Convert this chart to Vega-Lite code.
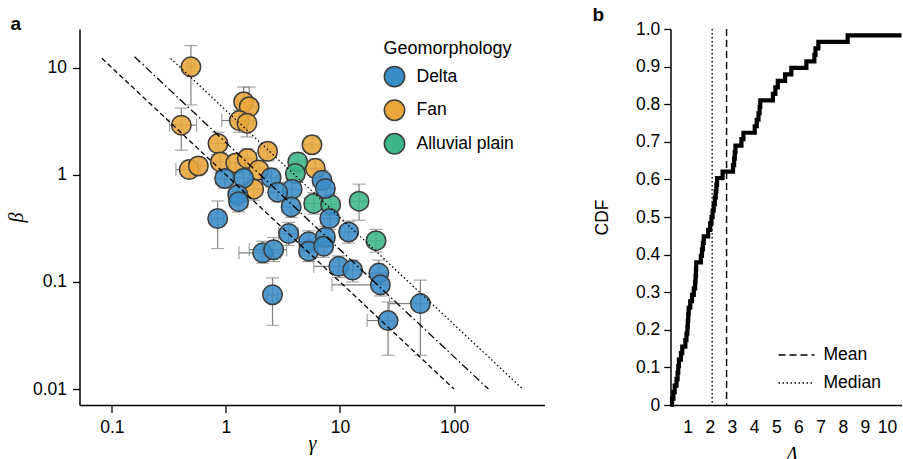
{
  "$schema": "https://vega.github.io/schema/vega-lite/v6.json",
  "padding": {"left": 5.5, "top": 5, "right": 0, "bottom": 0},
  "bounds": "flush",
  "spacing": 126,
  "config": {
    "font": "Liberation Sans",
    "view": {"stroke": null},
    "axis": {"domainColor": "#000", "domainWidth": 1.5, "tickColor": "#000", "tickWidth": 1.3, "labelColor": "#000", "labelFontSize": 17.5, "labelFont": "Liberation Sans", "titleColor": "#000", "grid": false, "labelFlush": false, "labelOverlap": false, "titleFont": "Liberation Serif", "titleFontStyle": "italic", "titleFontWeight": "normal", "titleFontSize": 20},
    "axisX": {"labelOverlap": false},
    "axisQuantitative": {"labelOverlap": false},
    "legend": {"labelFontSize": 17.5, "titleFontSize": 18, "titleFontWeight": "normal", "labelColor": "#000", "titleColor": "#000", "padding": 0, "labelFont": "Liberation Sans", "titleFont": "Liberation Sans"},
    "title": {"font": "Liberation Sans", "fontSize": 19, "fontWeight": "bold", "color": "#000", "anchor": "start", "frame": "group", "baseline": "alphabetic", "offset": -4.75}
  },
  "datasets": {
    "pts": [
      {"geo": "Fan", "gamma": 0.493, "beta": 10.2, "g_lo": 0.46, "g_hi": 0.53, "b_lo": 4.5, "b_hi": 16.1},
      {"geo": "Fan", "gamma": 1.43, "beta": 4.81, "g_lo": 1.25, "g_hi": 1.65, "b_lo": 3.5, "b_hi": 6.6},
      {"geo": "Fan", "gamma": 1.60, "beta": 4.32, "g_lo": 1.40, "g_hi": 1.85, "b_lo": 3.2, "b_hi": 6.6},
      {"geo": "Fan", "gamma": 1.31, "beta": 3.21, "g_lo": 0.92, "g_hi": 1.55, "b_lo": 2.5, "b_hi": 4.0},
      {"geo": "Fan", "gamma": 1.53, "beta": 3.04, "g_lo": 1.35, "g_hi": 1.75, "b_lo": 2.26, "b_hi": 3.8},
      {"geo": "Fan", "gamma": 0.406, "beta": 2.91, "g_lo": 0.32, "g_hi": 0.553, "b_lo": 1.70, "b_hi": 4.2},
      {"geo": "Fan", "gamma": 0.851, "beta": 1.96, "g_lo": 0.72, "g_hi": 1.0, "b_lo": 1.55, "b_hi": 2.5},
      {"geo": "Fan", "gamma": 2.32, "beta": 1.66, "g_lo": 2.0, "g_hi": 2.7, "b_lo": 1.35, "b_hi": 2.0},
      {"geo": "Fan", "gamma": 5.68, "beta": 1.91, "g_lo": 4.8, "g_hi": 6.6, "b_lo": 1.6, "b_hi": 2.3},
      {"geo": "Fan", "gamma": 0.476, "beta": 1.12, "g_lo": 0.364, "g_hi": 0.60, "b_lo": 0.95, "b_hi": 1.35},
      {"geo": "Fan", "gamma": 0.573, "beta": 1.21, "g_lo": 0.48, "g_hi": 0.68, "b_lo": 1.0, "b_hi": 1.45},
      {"geo": "Fan", "gamma": 0.893, "beta": 1.32, "g_lo": 0.75, "g_hi": 1.08, "b_lo": 1.05, "b_hi": 1.6},
      {"geo": "Fan", "gamma": 1.22, "beta": 1.29, "g_lo": 1.0, "g_hi": 1.5, "b_lo": 1.05, "b_hi": 1.55},
      {"geo": "Fan", "gamma": 1.54, "beta": 1.42, "g_lo": 1.3, "g_hi": 1.85, "b_lo": 1.15, "b_hi": 1.75},
      {"geo": "Fan", "gamma": 1.94, "beta": 1.11, "g_lo": 1.6, "g_hi": 2.3, "b_lo": 0.9, "b_hi": 1.35},
      {"geo": "Fan", "gamma": 6.08, "beta": 1.15, "g_lo": 5.0, "g_hi": 7.2, "b_lo": 0.95, "b_hi": 1.4},
      {"geo": "Fan", "gamma": 1.75, "beta": 0.735, "g_lo": 1.45, "g_hi": 2.1, "b_lo": 0.58, "b_hi": 0.9},
      {"geo": "Alluvial plain", "gamma": 4.26, "beta": 1.32, "g_lo": 3.6, "g_hi": 5.0, "b_lo": 1.1, "b_hi": 1.6},
      {"geo": "Alluvial plain", "gamma": 4.06, "beta": 1.03, "g_lo": 3.4, "g_hi": 4.8, "b_lo": 0.85, "b_hi": 1.25},
      {"geo": "Alluvial plain", "gamma": 5.88, "beta": 0.541, "g_lo": 4.9, "g_hi": 7.0, "b_lo": 0.43, "b_hi": 0.68},
      {"geo": "Alluvial plain", "gamma": 8.28, "beta": 0.527, "g_lo": 7.0, "g_hi": 9.8, "b_lo": 0.42, "b_hi": 0.66},
      {"geo": "Alluvial plain", "gamma": 14.7, "beta": 0.568, "g_lo": 12.5, "g_hi": 17.5, "b_lo": 0.377, "b_hi": 0.819},
      {"geo": "Alluvial plain", "gamma": 20.7, "beta": 0.243, "g_lo": 17.5, "g_hi": 24.5, "b_lo": 0.19, "b_hi": 0.31},
      {"geo": "Delta", "gamma": 0.974, "beta": 0.925, "g_lo": 0.82, "g_hi": 1.15, "b_lo": 0.75, "b_hi": 1.12},
      {"geo": "Delta", "gamma": 1.43, "beta": 0.931, "g_lo": 1.2, "g_hi": 1.7, "b_lo": 0.76, "b_hi": 1.12},
      {"geo": "Delta", "gamma": 2.49, "beta": 0.942, "g_lo": 2.1, "g_hi": 2.95, "b_lo": 0.77, "b_hi": 1.15},
      {"geo": "Delta", "gamma": 1.27, "beta": 0.653, "g_lo": 1.05, "g_hi": 1.5, "b_lo": 0.52, "b_hi": 0.82},
      {"geo": "Delta", "gamma": 1.29, "beta": 0.562, "g_lo": 1.1, "g_hi": 1.55, "b_lo": 0.45, "b_hi": 0.7},
      {"geo": "Delta", "gamma": 0.846, "beta": 0.391, "g_lo": 0.75, "g_hi": 0.95, "b_lo": 0.205, "b_hi": 0.571},
      {"geo": "Delta", "gamma": 3.81, "beta": 0.735, "g_lo": 3.2, "g_hi": 4.5, "b_lo": 0.6, "b_hi": 0.9},
      {"geo": "Delta", "gamma": 6.95, "beta": 0.892, "g_lo": 5.8, "g_hi": 8.2, "b_lo": 0.72, "b_hi": 1.1},
      {"geo": "Delta", "gamma": 7.45, "beta": 0.746, "g_lo": 6.3, "g_hi": 8.8, "b_lo": 0.6, "b_hi": 0.92},
      {"geo": "Delta", "gamma": 3.73, "beta": 0.502, "g_lo": 3.1, "g_hi": 4.4, "b_lo": 0.4, "b_hi": 0.63},
      {"geo": "Delta", "gamma": 8.12, "beta": 0.391, "g_lo": 6.8, "g_hi": 9.6, "b_lo": 0.31, "b_hi": 0.49},
      {"geo": "Delta", "gamma": 3.55, "beta": 0.283, "g_lo": 2.9, "g_hi": 4.3, "b_lo": 0.22, "b_hi": 0.36},
      {"geo": "Delta", "gamma": 11.9, "beta": 0.293, "g_lo": 10.0, "g_hi": 14.0, "b_lo": 0.23, "b_hi": 0.37},
      {"geo": "Delta", "gamma": 2.10, "beta": 0.187, "g_lo": 1.30, "g_hi": 3.0, "b_lo": 0.15, "b_hi": 0.24},
      {"geo": "Delta", "gamma": 2.62, "beta": 0.200, "g_lo": 1.6, "g_hi": 3.4, "b_lo": 0.155, "b_hi": 0.26},
      {"geo": "Delta", "gamma": 5.31, "beta": 0.238, "g_lo": 4.4, "g_hi": 6.3, "b_lo": 0.19, "b_hi": 0.3},
      {"geo": "Delta", "gamma": 5.31, "beta": 0.194, "g_lo": 4.4, "g_hi": 6.3, "b_lo": 0.155, "b_hi": 0.245},
      {"geo": "Delta", "gamma": 7.45, "beta": 0.262, "g_lo": 6.2, "g_hi": 8.9, "b_lo": 0.21, "b_hi": 0.33},
      {"geo": "Delta", "gamma": 7.19, "beta": 0.216, "g_lo": 6.0, "g_hi": 8.6, "b_lo": 0.17, "b_hi": 0.27},
      {"geo": "Delta", "gamma": 9.75, "beta": 0.140, "g_lo": 5.9, "g_hi": 11.5, "b_lo": 0.11, "b_hi": 0.175},
      {"geo": "Delta", "gamma": 12.9, "beta": 0.129, "g_lo": 10.8, "g_hi": 15.3, "b_lo": 0.1, "b_hi": 0.16},
      {"geo": "Delta", "gamma": 21.9, "beta": 0.121, "g_lo": 18.5, "g_hi": 26.0, "b_lo": 0.095, "b_hi": 0.16},
      {"geo": "Delta", "gamma": 22.6, "beta": 0.094, "g_lo": 8.5, "g_hi": 27.0, "b_lo": 0.074, "b_hi": 0.118},
      {"geo": "Delta", "gamma": 2.56, "beta": 0.076, "g_lo": 2.3, "g_hi": 2.85, "b_lo": 0.0394, "b_hi": 0.109},
      {"geo": "Delta", "gamma": 50.7, "beta": 0.0628, "g_lo": 27.1, "g_hi": 60, "b_lo": 0.0207, "b_hi": 0.104},
      {"geo": "Delta", "gamma": 26.4, "beta": 0.0436, "g_lo": 17.3, "g_hi": 30, "b_lo": 0.0207, "b_hi": 0.065},
      {"geo": "Delta", "gamma": 2.84, "beta": 0.689, "g_lo": 2.4, "g_hi": 3.35, "b_lo": 0.56, "b_hi": 0.85}
    ],
    "cdf": [
      {"lam": 0.23, "cdf": 0}, {"lam": 0.30, "cdf": 0.0172}, {"lam": 0.36, "cdf": 0.0345}, {"lam": 0.42, "cdf": 0.0517},
      {"lam": 0.50, "cdf": 0.069}, {"lam": 0.55, "cdf": 0.0862}, {"lam": 0.58, "cdf": 0.1034}, {"lam": 0.61, "cdf": 0.1207},
      {"lam": 0.70, "cdf": 0.1379}, {"lam": 0.76, "cdf": 0.1552}, {"lam": 0.90, "cdf": 0.1724}, {"lam": 0.95, "cdf": 0.1897},
      {"lam": 0.99, "cdf": 0.2069}, {"lam": 1.01, "cdf": 0.2241}, {"lam": 1.03, "cdf": 0.2414}, {"lam": 1.05, "cdf": 0.2586},
      {"lam": 1.12, "cdf": 0.2759}, {"lam": 1.20, "cdf": 0.2931}, {"lam": 1.28, "cdf": 0.3103}, {"lam": 1.34, "cdf": 0.3276},
      {"lam": 1.36, "cdf": 0.3448}, {"lam": 1.38, "cdf": 0.3621}, {"lam": 1.39, "cdf": 0.3793}, {"lam": 1.60, "cdf": 0.3966},
      {"lam": 1.65, "cdf": 0.4138}, {"lam": 1.69, "cdf": 0.431}, {"lam": 1.73, "cdf": 0.4483}, {"lam": 1.93, "cdf": 0.4655},
      {"lam": 2.02, "cdf": 0.4828}, {"lam": 2.08, "cdf": 0.5}, {"lam": 2.13, "cdf": 0.5172}, {"lam": 2.18, "cdf": 0.5345},
      {"lam": 2.23, "cdf": 0.5517}, {"lam": 2.27, "cdf": 0.569}, {"lam": 2.30, "cdf": 0.5862}, {"lam": 2.33, "cdf": 0.6034},
      {"lam": 2.58, "cdf": 0.6207}, {"lam": 3.05, "cdf": 0.6379}, {"lam": 3.10, "cdf": 0.6552}, {"lam": 3.13, "cdf": 0.6724},
      {"lam": 3.16, "cdf": 0.6897}, {"lam": 3.43, "cdf": 0.7069}, {"lam": 3.52, "cdf": 0.7241}, {"lam": 4.03, "cdf": 0.7414},
      {"lam": 4.12, "cdf": 0.7586}, {"lam": 4.20, "cdf": 0.7759}, {"lam": 4.25, "cdf": 0.7931}, {"lam": 4.28, "cdf": 0.8103},
      {"lam": 4.85, "cdf": 0.8276}, {"lam": 4.96, "cdf": 0.8448}, {"lam": 5.07, "cdf": 0.8621}, {"lam": 5.40, "cdf": 0.8793},
      {"lam": 5.68, "cdf": 0.8966}, {"lam": 6.36, "cdf": 0.9138}, {"lam": 6.72, "cdf": 0.931}, {"lam": 6.77, "cdf": 0.9483},
      {"lam": 6.90, "cdf": 0.9655}, {"lam": 8.22, "cdf": 0.9828}, {"lam": 10.65, "cdf": 0.9828}
    ]
  },
  "hconcat": [
    {
      "width": 465,
      "height": 376,
      "title": {"text": "a", "dx": -69},
      "layer": [
        {
          "data": {"name": "pts"},
          "mark": {"type": "rule", "color": "#808080", "strokeWidth": 1.2},
          "encoding": {
            "x": {"field": "gamma", "type": "quantitative", "scale": {"type": "log", "domain": [0.052, 621], "nice": false}, "axis": {"values": [0.1, 1, 10, 100], "format": "~g", "title": "γ", "tickSize": 7.5, "labelPadding": 6, "titlePadding": -3, "labelOverlap": false}},
            "y": {"field": "b_lo", "type": "quantitative", "scale": {"type": "log", "domain": [0.0071, 23], "nice": false}, "axis": {"values": [0.01, 0.1, 1, 10], "format": "~g", "title": "β", "tickSize": 7, "labelPadding": 6, "titlePadding": 6, "labelOverlap": false}},
            "y2": {"field": "b_hi"}
          }
        },
        {
          "data": {"name": "pts"},
          "mark": {"type": "rule", "color": "#808080", "strokeWidth": 1.2},
          "encoding": {
            "x": {"field": "g_lo", "type": "quantitative"},
            "x2": {"field": "g_hi"},
            "y": {"field": "beta", "type": "quantitative"}
          }
        },
        {
          "data": {"name": "pts"},
          "mark": {"type": "tick", "orient": "horizontal", "color": "#808080", "thickness": 1.2, "size": 13},
          "encoding": {"x": {"field": "gamma", "type": "quantitative"}, "y": {"field": "b_lo", "type": "quantitative"}}
        },
        {
          "data": {"name": "pts"},
          "mark": {"type": "tick", "orient": "horizontal", "color": "#808080", "thickness": 1.2, "size": 13},
          "encoding": {"x": {"field": "gamma", "type": "quantitative"}, "y": {"field": "b_hi", "type": "quantitative"}}
        },
        {
          "data": {"name": "pts"},
          "mark": {"type": "tick", "orient": "vertical", "color": "#808080", "thickness": 1.2, "size": 13},
          "encoding": {"x": {"field": "g_lo", "type": "quantitative"}, "y": {"field": "beta", "type": "quantitative"}}
        },
        {
          "data": {"name": "pts"},
          "mark": {"type": "tick", "orient": "vertical", "color": "#808080", "thickness": 1.2, "size": 13},
          "encoding": {"x": {"field": "g_hi", "type": "quantitative"}, "y": {"field": "beta", "type": "quantitative"}}
        },
        {
          "data": {"name": "pts"},
          "mark": {"type": "circle", "size": 380, "stroke": "#3c3c3c", "strokeWidth": 1.5, "fillOpacity": 0.88, "opacity": 1},
          "encoding": {
            "x": {"field": "gamma", "type": "quantitative"},
            "y": {"field": "beta", "type": "quantitative"},
            "color": {"field": "geo", "type": "nominal", "sort": null, "scale": {"domain": ["Delta", "Fan", "Alluvial plain"], "range": ["#3a8cc6", "#e9a63a", "#3db68a"]},
              "legend": {"title": "Geomorphology", "orient": "none", "legendX": 304, "legendY": 11, "symbolType": "circle", "symbolSize": 415, "symbolStrokeColor": "#3c3c3c", "symbolStrokeWidth": 1.5, "symbolOpacity": 1, "rowPadding": 5.6, "titlePadding": 7.6, "labelOffset": 11}}
          }
        },
        {
          "data": {"values": [{"gamma": 0.0817, "beta": 12.24}, {"gamma": 100, "beta": 0.01}]},
          "mark": {"type": "line", "color": "#000", "strokeWidth": 1.3, "strokeDash": [5, 3]},
          "encoding": {"x": {"field": "gamma", "type": "quantitative"}, "y": {"field": "beta", "type": "quantitative"}}
        },
        {
          "data": {"values": [{"gamma": 0.158, "beta": 12.66}, {"gamma": 200, "beta": 0.01}]},
          "mark": {"type": "line", "color": "#000", "strokeWidth": 1.3, "strokeDash": [8, 3, 1.5, 3]},
          "encoding": {"x": {"field": "gamma", "type": "quantitative"}, "y": {"field": "beta", "type": "quantitative"}}
        },
        {
          "data": {"values": [{"gamma": 0.327, "beta": 12.23}, {"gamma": 400, "beta": 0.01}]},
          "mark": {"type": "line", "color": "#000", "strokeWidth": 1.3, "strokeDash": [1.5, 2.5]},
          "encoding": {"x": {"field": "gamma", "type": "quantitative"}, "y": {"field": "beta", "type": "quantitative"}}
        }
      ]
    },
    {
      "width": 231,
      "height": 376,
      "title": {"text": "b", "dx": -78},
      "layer": [
        {
          "data": {"name": "cdf"},
          "mark": {"type": "line", "interpolate": "step-after", "color": "#000", "strokeWidth": 4.2, "strokeJoin": "miter"},
          "encoding": {
            "x": {"field": "lam", "type": "quantitative", "scale": {"domain": [0.23, 10.65], "nice": false, "zero": false}, "axis": {"values": [1, 2, 3, 4, 5, 6, 7, 8, 9, 10], "title": "Λ", "ticks": false, "tickSize": 0, "labelPadding": 13.5, "titlePadding": 8.5, "titleX": 121, "labelOverlap": false, "labelBound": false, "labelSeparation": 0}},
            "y": {"field": "cdf", "type": "quantitative", "scale": {"domain": [0, 1], "nice": false}, "axis": {"values": [0, 0.1, 0.2, 0.3, 0.4, 0.5, 0.6, 0.7, 0.8, 0.9, 1], "labelExpr": "datum.value == 0 ? '0' : format(datum.value, '.1f')", "title": "CDF", "titleFont": "Liberation Sans", "titleFontStyle": "normal", "titleFontSize": 17.5, "tickSize": 6.7, "labelPadding": 4, "titlePadding": 24, "labelOverlap": false}}
          }
        },
        {
          "data": {"values": [{"stat": "Mean", "lam": 2.76}, {"stat": "Median", "lam": 2.11}]},
          "mark": {"type": "rule", "color": "#000", "strokeWidth": 1.4},
          "encoding": {
            "x": {"field": "lam", "type": "quantitative", "axis": {"values": [1, 2, 3, 4, 5, 6, 7, 8, 9, 10], "title": "Λ", "ticks": false, "tickSize": 0, "labelPadding": 13.5, "titlePadding": 8.5, "titleX": 121, "labelOverlap": false, "labelBound": false, "labelSeparation": 0}},
            "strokeDash": {"field": "stat", "type": "nominal", "scale": {"domain": ["Mean", "Median"], "range": [[7, 4], [1.5, 2.5]]},
              "legend": {"title": null, "orient": "none", "legendX": 698, "legendY": 307, "symbolType": "stroke", "symbolSize": 1296, "symbolStrokeColor": "#000", "symbolStrokeWidth": 1.5, "rowPadding": -14.5, "labelOffset": 8}}
          }
        }
      ]
    }
  ]
}
